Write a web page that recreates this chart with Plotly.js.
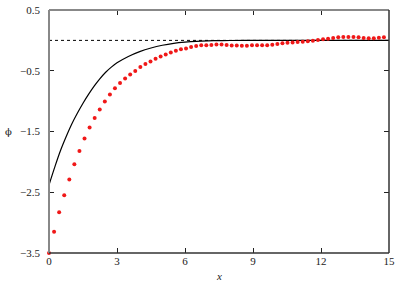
<!DOCTYPE html>
<html>
<head>
<meta charset="utf-8">
<script src="https://cdn.plot.ly/plotly-3.0.1.min.js"></script>
<style>
  html, body { margin: 0; padding: 0; background: #fff; }
  #chart { width: 407px; height: 285px; }
</style>
</head>
<body>
<div id="chart"></div>
<script>
// Red dotted series (numerical points)
const dotsX = [0, 0.224, 0.448, 0.672, 0.896, 1.119, 1.343, 1.567, 1.791, 2.015,
  2.239, 2.463, 2.687, 2.910, 3.134, 3.358, 3.582, 3.806, 4.030, 4.254,
  4.478, 4.701, 4.925, 5.149, 5.373, 5.597, 5.821, 6.045, 6.269, 6.493,
  6.716, 6.940, 7.164, 7.388, 7.612, 7.836, 8.060, 8.284, 8.507, 8.731,
  8.955, 9.179, 9.403, 9.627, 9.851, 10.075, 10.299, 10.522, 10.746, 10.970,
  11.194, 11.418, 11.642, 11.866, 12.090, 12.313, 12.537, 12.761, 12.985, 13.209,
  13.433, 13.657, 13.881, 14.104, 14.328, 14.552, 14.776];
const dotsY = [-3.50, -3.15, -2.83, -2.55, -2.29, -2.04, -1.82, -1.615, -1.435, -1.278,
  -1.137, -1.008, -0.892, -0.790, -0.703, -0.626, -0.563, -0.503, -0.440, -0.390,
  -0.346, -0.302, -0.264, -0.231, -0.198, -0.170, -0.148, -0.132, -0.110, -0.093,
  -0.082, -0.080, -0.075, -0.069, -0.069, -0.077, -0.083, -0.085, -0.088, -0.088,
  -0.082, -0.082, -0.082, -0.082, -0.071, -0.060, -0.049, -0.038, -0.033, -0.027,
  -0.022, -0.016, -0.005, 0.006, 0.017, 0.028, 0.039, 0.050, 0.055, 0.055,
  0.055, 0.050, 0.039, 0.033, 0.033, 0.044, 0.050];

// Black solid curve
const curveX = [0, 0.25, 0.5, 0.75, 1.0, 1.25, 1.5, 1.75, 2.0, 2.25, 2.5, 2.75,
  3.0, 3.5, 4.0, 4.5, 5.0, 5.5, 6.0, 6.5, 7.0, 7.5, 8.0, 9.0, 10, 11, 12, 13, 14, 15];
const curveY = [-2.38, -2.09, -1.82, -1.59, -1.38, -1.20, -1.035, -0.885, -0.75, -0.63, -0.525, -0.44,
  -0.37, -0.265, -0.185, -0.125, -0.08, -0.048, -0.028, -0.015, -0.008, -0.004, -0.002, -0.001,
  0, 0, 0, 0, 0, 0];

// Dotted reference line
const refX = [0, 15];
const refY = [0, 0];

const xTicks = [0, 3, 6, 9, 12, 15];
const yTicks = [-3.5, -2.5, -1.5, -0.5, 0.5];
const yTickText = ['\u22123.5', '\u22122.5', '\u22121.5', '\u22120.5', '0.5'];

const serif = 'Liberation Serif';

const traces = [
  { x: refX, y: refY, type: 'scatter', mode: 'lines',
    line: { color: '#000', width: 1, dash: 'dot' }, hoverinfo: 'skip' },
  { x: curveX, y: curveY, type: 'scatter', mode: 'lines',
    line: { color: '#000', width: 1.2, shape: 'spline', smoothing: 1 } },
  { x: dotsX, y: dotsY, type: 'scatter', mode: 'markers', cliponaxis: false,
    marker: { color: '#f01818', size: 4, line: { width: 0 } } }
];

const layout = {
  width: 407, height: 285,
  margin: { l: 49, r: 18, t: 10, b: 32, pad: 0 },
  paper_bgcolor: '#fff', plot_bgcolor: '#fff',
  showlegend: false,
  font: { family: serif, size: 11, color: '#222' },
  xaxis: {
    range: [0, 15], tickvals: xTicks, ticktext: xTicks.map(String),
    ticks: 'inside', ticklen: 5, tickwidth: 1, tickcolor: '#222',
    showline: false, mirror: 'ticks',
    showgrid: false, zeroline: false,
    tickfont: { family: serif, size: 11, color: '#222' }
  },
  yaxis: {
    range: [-3.5, 0.5], tickvals: yTicks, ticktext: yTickText,
    ticks: 'inside', ticklen: 5, tickwidth: 1, tickcolor: '#222',
    showline: false, mirror: 'ticks',
    showgrid: false, zeroline: false, ticklabelstandoff: 8,
    tickfont: { family: serif, size: 11, color: '#222' }
  },
  shapes: [
    { type: 'line', xref: 'paper', yref: 'paper', x0: 0, x1: 0, y0: 0, y1: 1,
      line: { color: '#888', width: 2 } },
    { type: 'line', xref: 'paper', yref: 'paper', x0: 0, x1: 1, y0: 1, y1: 1,
      line: { color: '#888', width: 2 } },
    { type: 'line', xref: 'paper', yref: 'paper', x0: 0, x1: 1, y0: 0, y1: 0,
      line: { color: '#333', width: 1.5 } },
    { type: 'line', xref: 'paper', yref: 'paper', x0: 1, x1: 1, y0: 0, y1: 1,
      line: { color: '#333', width: 1.5 } }
  ],
  annotations: [
    { text: '<i>x</i>', xref: 'paper', yref: 'paper', x: 0.5, y: -0.095,
      xanchor: 'center', yanchor: 'middle', showarrow: false,
      font: { family: serif, size: 11, color: '#222' } },
    { text: '\u03D5', xref: 'paper', yref: 'paper', x: -0.12, y: 0.5,
      xanchor: 'center', yanchor: 'middle', showarrow: false,
      font: { family: 'DejaVu Serif', size: 10, color: '#222' } }
  ]
};

Plotly.newPlot('chart', traces, layout, { displayModeBar: false, staticPlot: true });
</script>
</body>
</html>
